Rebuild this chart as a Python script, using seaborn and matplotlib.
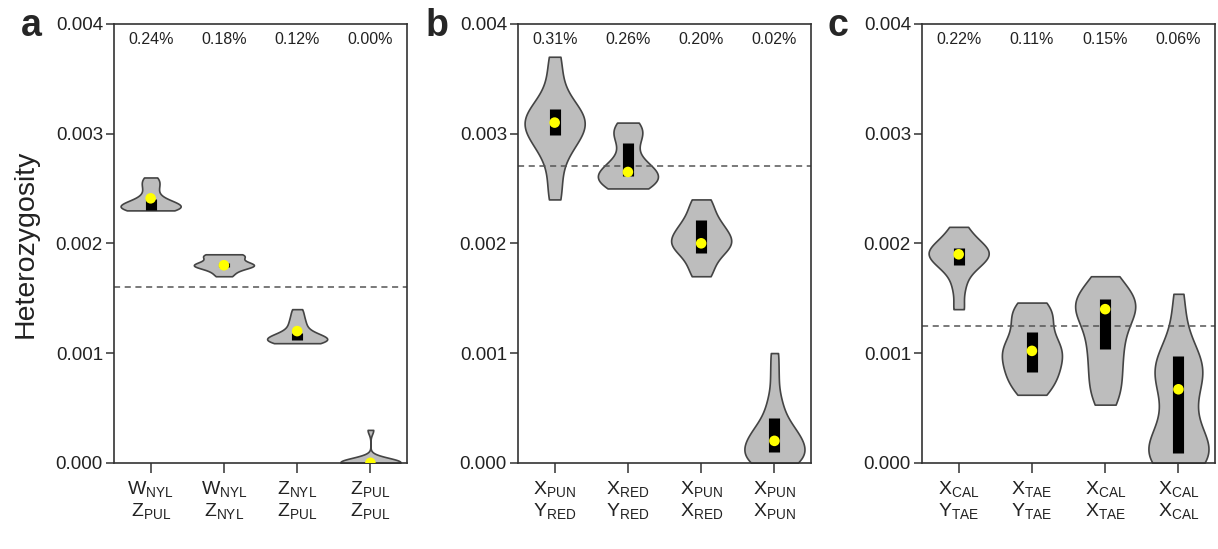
import numpy as np
import pandas as pd
import seaborn as sns
import matplotlib.pyplot as plt
import matplotlib.ticker as ticker

# ---- data (heterozygosity samples per comparison) ----
labels_a = ["W$_\\mathregular{NYL}$\nZ$_\\mathregular{PUL}$", "W$_\\mathregular{NYL}$\nZ$_\\mathregular{NYL}$",
            "Z$_\\mathregular{NYL}$\nZ$_\\mathregular{PUL}$", "Z$_\\mathregular{PUL}$\nZ$_\\mathregular{PUL}$"]
labels_b = ["X$_\\mathregular{PUN}$\nY$_\\mathregular{RED}$", "X$_\\mathregular{RED}$\nY$_\\mathregular{RED}$",
            "X$_\\mathregular{PUN}$\nX$_\\mathregular{RED}$", "X$_\\mathregular{PUN}$\nX$_\\mathregular{PUN}$"]
labels_c = ["X$_\\mathregular{CAL}$\nY$_\\mathregular{TAE}$", "X$_\\mathregular{TAE}$\nY$_\\mathregular{TAE}$",
            "X$_\\mathregular{CAL}$\nX$_\\mathregular{TAE}$", "X$_\\mathregular{CAL}$\nX$_\\mathregular{CAL}$"]

pct_a = ["0.24%", "0.18%", "0.12%", "0.00%"]
pct_b = ["0.31%", "0.26%", "0.20%", "0.02%"]
pct_c = ["0.22%", "0.11%", "0.15%", "0.06%"]

a1 = [0.00230, 0.00230, 0.00231, 0.00232, 0.00233, 0.00234, 0.00235, 0.00236, 0.00237, 0.00239, 0.00242, 0.00247, 0.00252, 0.00256, 0.00260]
a2 = [0.00170, 0.00174, 0.00177, 0.00179, 0.00180, 0.00180, 0.00181, 0.00183, 0.00186, 0.00188, 0.00190, 0.00190]
a3 = [0.00109, 0.00110, 0.00110, 0.00111, 0.00112, 0.00113, 0.00114, 0.00115, 0.00116, 0.00118, 0.00121, 0.00125, 0.00129, 0.00134, 0.00140]
a4 = [0.0, 0.0, 0.0, 0.0, 0.0, 0.0, 0.0, 0.0, 0.00001, 0.00002, 0.00003, 0.00030]

b1 = [0.00240, 0.00260, 0.00280, 0.00288, 0.00295, 0.00300, 0.00305, 0.00310, 0.00310, 0.00315, 0.00320, 0.00325, 0.00332, 0.00350, 0.00370]
b2 = [0.00250, 0.00252, 0.00255, 0.00257, 0.00260, 0.00262, 0.00265, 0.00268, 0.00270, 0.00275, 0.00285, 0.00295, 0.00300, 0.00305, 0.00310]
b3 = [0.00170, 0.00180, 0.00190, 0.00195, 0.00200, 0.00200, 0.00205, 0.00210, 0.00215, 0.00220, 0.00230, 0.00240]
b4 = [0.0, 0.0, 0.0, 0.00002, 0.00005, 0.00008, 0.00010, 0.00013, 0.00016, 0.00020, 0.00020, 0.00023, 0.00027, 0.00030,
      0.00035, 0.00040, 0.00050, 0.00060, 0.00080, 0.00100]

c1 = [0.00140, 0.00160, 0.00175, 0.00180, 0.00185, 0.00190, 0.00190, 0.00192, 0.00195, 0.00200, 0.00205, 0.00215]
c2 = [0.00062, 0.00068, 0.00075, 0.00080, 0.00085, 0.00090, 0.00095, 0.00100, 0.00103, 0.00108, 0.00112, 0.00120, 0.00128,
      0.00135, 0.00140, 0.00146]
c3 = [0.00053, 0.00062, 0.00071, 0.00080, 0.00089, 0.00098, 0.00106, 0.00114, 0.00122, 0.00130, 0.00135, 0.00140, 0.00143,
      0.00146, 0.00150, 0.00155, 0.00160, 0.00170]
c4 = [0.0, 0.0, 0.0, 0.00003, 0.00007, 0.00010, 0.00015, 0.00020, 0.00025, 0.00030, 0.00040, 0.00050, 0.00060, 0.00070,
      0.00075, 0.00080, 0.00085, 0.00090, 0.00095, 0.00100, 0.00110, 0.00130, 0.00154]

# interquartile boxes and centre dots
box_lo_a = [0.00230, 0.00178, 0.00112, 0.0]
box_hi_a = [0.00240, 0.00182, 0.00118, 0.00001]
mid_a = [0.00241, 0.00180, 0.00120, 0.0]
box_lo_b = [0.00299, 0.00261, 0.00191, 0.00010]
box_hi_b = [0.00322, 0.00291, 0.00221, 0.00041]
mid_b = [0.00310, 0.00265, 0.00200, 0.00020]
box_lo_c = [0.00180, 0.00083, 0.00104, 0.00009]
box_hi_c = [0.00196, 0.00119, 0.00149, 0.00097]
mid_c = [0.00190, 0.00102, 0.00140, 0.00067]

ref_lines = [0.0016, 0.0027, 0.00125]

panels = [
    ('a', [a1, a2, a3, a4], labels_a, pct_a, box_lo_a, box_hi_a, mid_a),
    ('b', [b1, b2, b3, b4], labels_b, pct_b, box_lo_b, box_hi_b, mid_b),
    ('c', [c1, c2, c3, c4], labels_c, pct_c, box_lo_c, box_hi_c, mid_c),
]

sns.set_style('ticks')
plt.rcParams['font.family'] = ['Liberation Sans', 'DejaVu Sans']
plt.rcParams['mathtext.fontset'] = 'custom'
plt.rcParams['mathtext.rm'] = 'Liberation Sans'

fig = plt.figure(figsize=(12.18, 5.49), dpi=100)
lefts = [0.0936, 0.4253, 0.757]
letter_x = [0.026, 0.359, 0.688]
edge = '#333333'
txt = '#222222'

for k, (letter, samples, xlabels, pcts, lo, hi, mid) in enumerate(panels):
    ax = fig.add_axes([lefts[k], 0.157, 0.2406, 0.7996])
    df = pd.DataFrame({
        'pair': np.repeat(np.arange(4), [len(s) for s in samples]),
        'het': np.concatenate(samples),
    })
    sns.violinplot(data=df, x='pair', y='het', ax=ax, color='#bdbdbd', linecolor='#444444',
                   linewidth=1.2, inner=None, cut=0, density_norm='width', width=0.82,
                   bw_adjust=0.75, saturation=1)
    pos = np.arange(4)
    ax.vlines(pos, lo, hi, color='black', linewidth=8, zorder=3)
    ax.scatter(pos, mid, s=58, color='#ffff00', edgecolor='none', zorder=4)
    ax.axhline(ref_lines[k], color='#555555', linewidth=1.1, linestyle=(0, (4, 3)), zorder=1)
    for i, p in enumerate(pcts):
        ax.text(i, 0.9636, p, transform=ax.get_xaxis_transform(), ha='center', va='center',
                fontsize=11.5, color=txt)

    ax.set_xlim(-0.5, 3.5)
    ax.set_ylim(0, 0.004)
    ax.set_yticks([0, 0.001, 0.002, 0.003, 0.004])
    ax.yaxis.set_major_formatter(ticker.FormatStrFormatter('%.3f'))
    ax.set_xticks(pos)
    ax.set_xticklabels(xlabels, fontsize=14, linespacing=1.15)
    ax.tick_params(axis='y', labelsize=13.5, length=6, width=1.1, color=edge, labelcolor=txt, pad=2)
    ax.tick_params(axis='x', length=7, width=1.1, color=edge, labelcolor=txt, pad=5)
    ax.set_xlabel('')
    ax.set_ylabel('')
    for s in ax.spines.values():
        s.set_visible(True)
        s.set_color(edge)
        s.set_linewidth(1.2)
    if k == 0:
        ax.set_ylabel('Heterozygosity', fontsize=20.5, labelpad=12, color=txt)
    fig.text(letter_x[k], 0.952, letter, fontsize=27, fontweight='bold', ha='center', va='center')

fig.savefig('out.png', dpi=100)
